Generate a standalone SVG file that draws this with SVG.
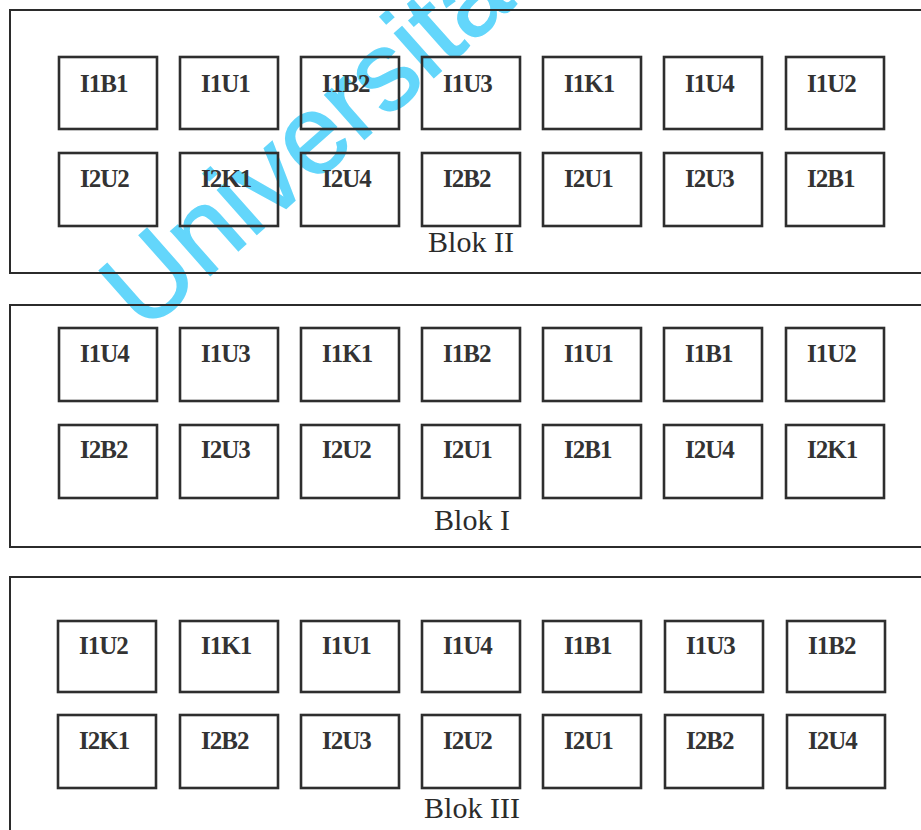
<svg xmlns="http://www.w3.org/2000/svg" width="921" height="830" viewBox="0 0 921 830">
<style>
.frame{fill:none;stroke:#2b2b2b;stroke-width:2}
.box{fill:none;stroke:#2e2e2e;stroke-width:2.6}
.t{font-family:"Liberation Sans",Arial,sans-serif;font-family:"Liberation Serif","Times New Roman",serif;font-weight:bold;font-size:25px;letter-spacing:-1px;fill:#333}
.lbl{font-family:"Liberation Serif","Times New Roman",serif;font-size:30px;fill:#2b2b2b;text-anchor:middle}
.wm{font-family:"Liberation Sans",Arial,sans-serif;font-size:112px;fill:#63d6fb;stroke:#63d6fb;stroke-width:1.5}
</style>
<rect width="921" height="830" fill="#ffffff"/>
<text class="wm" x="144" y="334" transform="rotate(-41.5 144 334)">Universitas</text>

<g id="blok2">
<rect class="frame" x="10" y="10" width="940" height="263"/>
<text class="lbl" x="471" y="252">Blok II</text>
<g id="b2-1"><rect class="box" x="59" y="57" width="98" height="72"/><text class="t" x="80" y="92">I1B1</text></g>
<g id="b2-2"><rect class="box" x="180" y="57" width="98" height="72"/><text class="t" x="201" y="92">I1U1</text></g>
<g id="b2-3"><rect class="box" x="301" y="57" width="98" height="72"/><text class="t" x="322" y="92">I1B2</text></g>
<g id="b2-4"><rect class="box" x="422" y="57" width="98" height="72"/><text class="t" x="443" y="92">I1U3</text></g>
<g id="b2-5"><rect class="box" x="543" y="57" width="98" height="72"/><text class="t" x="564" y="92">I1K1</text></g>
<g id="b2-6"><rect class="box" x="664" y="57" width="98" height="72"/><text class="t" x="685" y="92">I1U4</text></g>
<g id="b2-7"><rect class="box" x="786" y="57" width="98" height="72"/><text class="t" x="807" y="92">I1U2</text></g>
<g id="b2-8"><rect class="box" x="59" y="153" width="98" height="73"/><text class="t" x="80" y="187">I2U2</text></g>
<g id="b2-9"><rect class="box" x="180" y="153" width="98" height="73"/><text class="t" x="201" y="187">I2K1</text></g>
<g id="b2-10"><rect class="box" x="301" y="153" width="98" height="73"/><text class="t" x="322" y="187">I2U4</text></g>
<g id="b2-11"><rect class="box" x="422" y="153" width="98" height="73"/><text class="t" x="443" y="187">I2B2</text></g>
<g id="b2-12"><rect class="box" x="543" y="153" width="98" height="73"/><text class="t" x="564" y="187">I2U1</text></g>
<g id="b2-13"><rect class="box" x="664" y="153" width="98" height="73"/><text class="t" x="685" y="187">I2U3</text></g>
<g id="b2-14"><rect class="box" x="786" y="153" width="98" height="73"/><text class="t" x="807" y="187">I2B1</text></g>
</g>

<g id="blok1">
<rect class="frame" x="10" y="305" width="940" height="242"/>
<text class="lbl" x="472" y="530">Blok I</text>
<g id="b1-1"><rect class="box" x="59" y="328" width="98" height="73"/><text class="t" x="80" y="362">I1U4</text></g>
<g id="b1-2"><rect class="box" x="180" y="328" width="98" height="73"/><text class="t" x="201" y="362">I1U3</text></g>
<g id="b1-3"><rect class="box" x="301" y="328" width="98" height="73"/><text class="t" x="322" y="362">I1K1</text></g>
<g id="b1-4"><rect class="box" x="422" y="328" width="98" height="73"/><text class="t" x="443" y="362">I1B2</text></g>
<g id="b1-5"><rect class="box" x="543" y="328" width="98" height="73"/><text class="t" x="564" y="362">I1U1</text></g>
<g id="b1-6"><rect class="box" x="664" y="328" width="98" height="73"/><text class="t" x="685" y="362">I1B1</text></g>
<g id="b1-7"><rect class="box" x="786" y="328" width="98" height="73"/><text class="t" x="807" y="362">I1U2</text></g>
<g id="b1-8"><rect class="box" x="59" y="425" width="98" height="73"/><text class="t" x="80" y="458">I2B2</text></g>
<g id="b1-9"><rect class="box" x="180" y="425" width="98" height="73"/><text class="t" x="201" y="458">I2U3</text></g>
<g id="b1-10"><rect class="box" x="301" y="425" width="98" height="73"/><text class="t" x="322" y="458">I2U2</text></g>
<g id="b1-11"><rect class="box" x="422" y="425" width="98" height="73"/><text class="t" x="443" y="458">I2U1</text></g>
<g id="b1-12"><rect class="box" x="543" y="425" width="98" height="73"/><text class="t" x="564" y="458">I2B1</text></g>
<g id="b1-13"><rect class="box" x="664" y="425" width="98" height="73"/><text class="t" x="685" y="458">I2U4</text></g>
<g id="b1-14"><rect class="box" x="786" y="425" width="98" height="73"/><text class="t" x="807" y="458">I2K1</text></g>
</g>

<g id="blok3">
<rect class="frame" x="10" y="577" width="940" height="280"/>
<text class="lbl" x="472" y="818">Blok III</text>
<g id="b3-1"><rect class="box" x="58" y="621" width="98" height="71"/><text class="t" x="79" y="654">I1U2</text></g>
<g id="b3-2"><rect class="box" x="180" y="621" width="98" height="71"/><text class="t" x="201" y="654">I1K1</text></g>
<g id="b3-3"><rect class="box" x="301" y="621" width="98" height="71"/><text class="t" x="322" y="654">I1U1</text></g>
<g id="b3-4"><rect class="box" x="422" y="621" width="98" height="71"/><text class="t" x="443" y="654">I1U4</text></g>
<g id="b3-5"><rect class="box" x="543" y="621" width="98" height="71"/><text class="t" x="564" y="654">I1B1</text></g>
<g id="b3-6"><rect class="box" x="665" y="621" width="98" height="71"/><text class="t" x="686" y="654">I1U3</text></g>
<g id="b3-7"><rect class="box" x="787" y="621" width="98" height="71"/><text class="t" x="808" y="654">I1B2</text></g>
<g id="b3-8"><rect class="box" x="58" y="715" width="98" height="73"/><text class="t" x="79" y="749">I2K1</text></g>
<g id="b3-9"><rect class="box" x="180" y="715" width="98" height="73"/><text class="t" x="201" y="749">I2B2</text></g>
<g id="b3-10"><rect class="box" x="301" y="715" width="98" height="73"/><text class="t" x="322" y="749">I2U3</text></g>
<g id="b3-11"><rect class="box" x="422" y="715" width="98" height="73"/><text class="t" x="443" y="749">I2U2</text></g>
<g id="b3-12"><rect class="box" x="543" y="715" width="98" height="73"/><text class="t" x="564" y="749">I2U1</text></g>
<g id="b3-13"><rect class="box" x="665" y="715" width="98" height="73"/><text class="t" x="686" y="749">I2B2</text></g>
<g id="b3-14"><rect class="box" x="787" y="715" width="98" height="73"/><text class="t" x="808" y="749">I2U4</text></g>
</g>
<g id="connectors"/>
</svg>
